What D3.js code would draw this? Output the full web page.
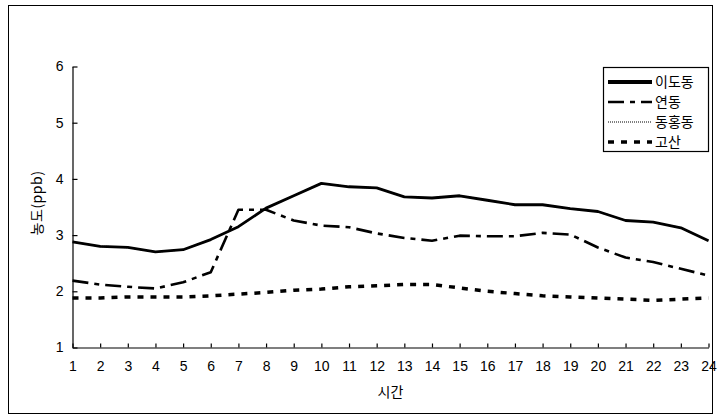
<!DOCTYPE html>
<html><head><meta charset="utf-8">
<script src="https://cdn.jsdelivr.net/npm/d3@7"></script>
<style>body{margin:0;background:#fff}svg{display:block}</style>
</head><body><svg id="c" width="722" height="419"></svg>
<script>
const hours = d3.range(1, 25);
const yTicks = [1, 2, 3, 4, 5, 6];
const seriesNames = ["이도동", "연동", "동홍동", "고산"];
const idodong = [2.88,2.80,2.78,2.70,2.74,2.92,3.15,3.48,3.70,3.92,3.86,3.84,3.68,3.66,3.70,3.62,3.54,3.54,3.47,3.42,3.26,3.23,3.13,2.90];
const yeondong = [2.19,2.12,2.08,2.05,2.16,2.34,3.45,3.45,3.26,3.17,3.14,3.03,2.95,2.90,2.99,2.98,2.98,3.04,3.01,2.78,2.60,2.52,2.40,2.28];
const donghongdong = [2.88,2.80,2.78,2.70,2.74,2.92,3.15,3.48,3.70,3.92,3.86,3.84,3.68,3.66,3.70,3.62,3.54,3.54,3.47,3.42,3.26,3.23,3.13,2.90];
const gosan = [1.88,1.88,1.90,1.90,1.90,1.92,1.95,1.98,2.02,2.04,2.08,2.10,2.12,2.12,2.06,2.00,1.96,1.92,1.90,1.88,1.86,1.84,1.86,1.88];

const styles = [
  {w:2.8, dash:null, color:"#000"},
  {w:2.6, dash:"16,6,5,6", color:"#000"},
  {w:1.6, dash:"1,1", color:"#555"},
  {w:3.5, dash:"6,7", color:"#000"}
];
const data = [idodong, yeondong, donghongdong, gosan];

const svg = d3.select("#c");
svg.append("rect").attr("x",8.5).attr("y",5.5).attr("width",704).attr("height",408)
  .attr("fill","none").attr("stroke","#000").attr("stroke-width",1);

const x = d3.scaleLinear().domain([1,24]).range([72.5,708.5]);
const y = d3.scaleLinear().domain([1,6]).range([347.5,66.5]);

const font = "'Liberation Sans', Arial, sans-serif";
const kfont = "'Noto Sans CJK KR', sans-serif";

const yAxis = svg.append("g").attr("transform","translate(72.5,0)")
  .call(d3.axisLeft(y).tickValues(yTicks).tickSizeInner(-5).tickSizeOuter(0).tickPadding(9).tickFormat(d3.format("d")));
const xAxis = svg.append("g").attr("transform","translate(0,347.5)")
  .call(d3.axisBottom(x).tickValues(hours).tickSizeInner(-4).tickSizeOuter(0).tickPadding(14).tickFormat(d3.format("d")));
[yAxis,xAxis].forEach(g=>{
  g.selectAll("path").attr("stroke","#000").attr("stroke-width",1.2);
  g.selectAll("line").attr("stroke","#000").attr("stroke-width",1.2);
  g.selectAll("text").attr("font-family",font).attr("font-size",14).attr("fill","#000");
});

svg.append("text").attr("x",x(12.5)).attr("y",397).attr("text-anchor","middle")
  .attr("font-family",kfont).attr("font-size",14).text("시간");
svg.append("text").attr("transform","translate(42,203) rotate(-90)").attr("text-anchor","middle")
  .attr("font-family",kfont).attr("font-size",14).attr("letter-spacing",0.5).text("농도(ppb)");

const line = d3.line().x((d,i)=>x(hours[i])).y(d=>y(d));
const order = [2,0,1,3];
order.forEach(k=>{
  const s = styles[k];
  svg.append("path").datum(data[k]).attr("d",line).attr("fill","none")
    .attr("stroke",s.color).attr("stroke-width",s.w)
    .attr("stroke-dasharray",s.dash).attr("stroke-linejoin","round");
});

const lg = svg.append("g");
lg.append("rect").attr("x",603.5).attr("y",67.5).attr("width",105).attr("height",84)
  .attr("fill","#fff").attr("stroke","#000").attr("stroke-width",1.2);
seriesNames.forEach((n,i)=>{
  const yy = 82 + i*20;
  const s = styles[i];
  lg.append("line").attr("x1",608).attr("x2",652).attr("y1",yy).attr("y2",yy)
    .attr("stroke",s.color).attr("stroke-width",i===0?4:s.w).attr("stroke-dasharray",s.dash);
  lg.append("text").attr("x",655).attr("y",yy+5).attr("font-family",kfont).attr("font-size",14).text(n);
});
</script></body></html>
